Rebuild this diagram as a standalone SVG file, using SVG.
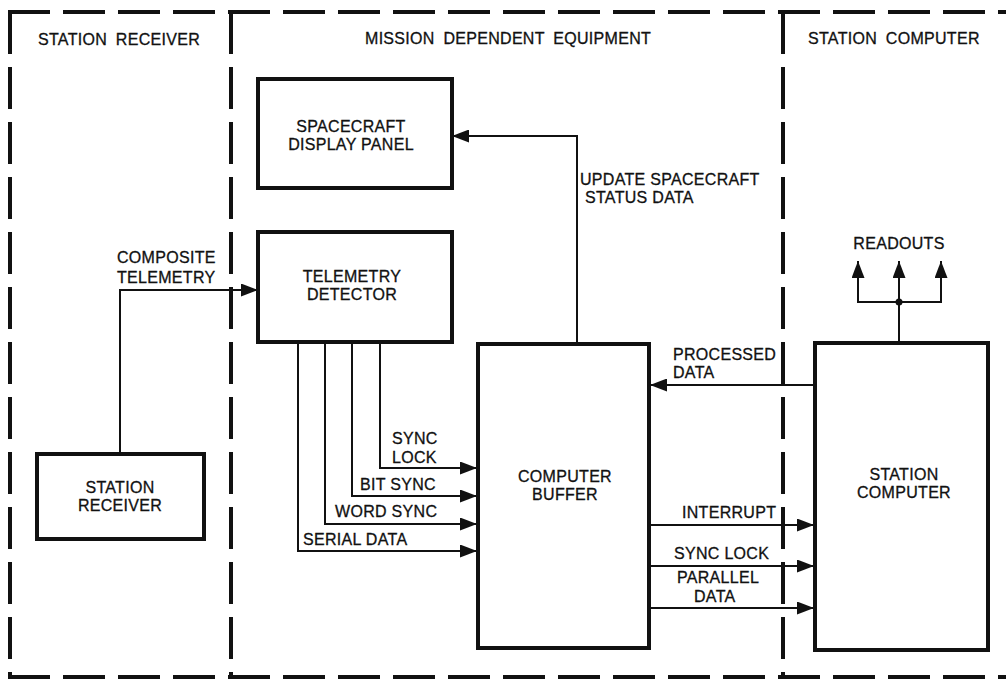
<svg xmlns="http://www.w3.org/2000/svg" width="1006" height="680" viewBox="0 0 1006 680">
  <style>
    .bg { fill: #ffffff; }
    .border { stroke: #111; stroke-width: 4; stroke-dasharray: 42 13; fill: none; stroke-linecap: butt; }
    .box { fill: #ffffff; stroke: #111; stroke-width: 4; }
    .wire { fill: none; stroke: #111; stroke-width: 2; }
    text { font-family: "Liberation Sans", Arial, sans-serif; font-size: 16px; fill: #111; stroke: #111; stroke-width: 0.3; letter-spacing: 0.3px; }
    .hdr { word-spacing: 4px; }
    .mid { text-anchor: middle; }
  </style>
  <defs>
    <marker id="arrow" viewBox="0 0 17 13" refX="17" refY="6.5" markerWidth="17" markerHeight="13" markerUnits="userSpaceOnUse" orient="auto">
      <path d="M0,0 L17,6.5 L0,13 z" fill="#111"/>
    </marker>
  </defs>
  <rect class="bg" x="0" y="0" width="1006" height="680"/>

  <g id="regions">
    <line class="border" x1="8" y1="12" x2="1006" y2="12"/>
    <line class="border" x1="10" y1="12" x2="10" y2="677"/>
    <line class="border" x1="8" y1="677" x2="1006" y2="677"/>
    <line class="border" x1="231" y1="12" x2="231" y2="677"/>
    <line class="border" x1="783" y1="12" x2="783" y2="677"/>
    <text class="hdr" x="38" y="45">STATION RECEIVER</text>
    <text class="hdr" x="365" y="44">MISSION DEPENDENT EQUIPMENT</text>
    <text class="hdr" x="808" y="44">STATION COMPUTER</text>
  </g>

  <g id="connectors">
    <!-- composite telemetry -->
    <path class="wire" d="M120,454 L120,290 L258,290" marker-end="url(#arrow)"/>
    <text x="117" y="263">COMPOSITE</text>
    <text x="117" y="283">TELEMETRY</text>
    <!-- update spacecraft status data -->
    <path class="wire" d="M577,344 L577,136 L452,136" marker-end="url(#arrow)"/>
    <text x="580" y="185">UPDATE SPACECRAFT</text>
    <text x="585" y="203">STATUS DATA</text>
    <!-- detector outputs -->
    <path class="wire" d="M380,342 L380,468 L477,468" marker-end="url(#arrow)"/>
    <path class="wire" d="M352,342 L352,496 L477,496" marker-end="url(#arrow)"/>
    <path class="wire" d="M325,342 L325,524 L477,524" marker-end="url(#arrow)"/>
    <path class="wire" d="M298,342 L298,551 L477,551" marker-end="url(#arrow)"/>
    <text x="392" y="444">SYNC</text>
    <text x="392" y="463">LOCK</text>
    <text x="360" y="490">BIT SYNC</text>
    <text x="335" y="517">WORD SYNC</text>
    <text x="303" y="545">SERIAL DATA</text>
    <!-- processed data -->
    <path class="wire" d="M815,385 L650,385" marker-end="url(#arrow)"/>
    <text x="673" y="360">PROCESSED</text>
    <text x="673" y="378">DATA</text>
    <!-- buffer to station computer -->
    <path class="wire" d="M650,525 L814,525" marker-end="url(#arrow)"/>
    <path class="wire" d="M650,566 L814,566" marker-end="url(#arrow)"/>
    <path class="wire" d="M650,608 L814,608" marker-end="url(#arrow)"/>
    <text x="682" y="518">INTERRUPT</text>
    <text x="674" y="559">SYNC LOCK</text>
    <text x="677" y="583">PARALLEL</text>
    <text x="694" y="602">DATA</text>
    <!-- readouts -->
    <path class="wire" d="M899,343 L899,261" marker-end="url(#arrow)"/>
    <path class="wire" d="M858,302 L941,302"/>
    <path class="wire" d="M858,303 L858,261" marker-end="url(#arrow)"/>
    <path class="wire" d="M941,303 L941,261" marker-end="url(#arrow)"/>
    <circle cx="899" cy="302" r="3.5" fill="#111"/>
    <text class="mid" x="899" y="249">READOUTS</text>
  </g>

  <g id="spacecraft-display-panel">
    <rect class="box" x="258" y="79" width="194" height="109"/>
    <text class="mid" x="351" y="132">SPACECRAFT</text>
    <text class="mid" x="351" y="150">DISPLAY PANEL</text>
  </g>

  <g id="telemetry-detector">
    <rect class="box" x="258" y="232" width="194" height="110"/>
    <text class="mid" x="352" y="282">TELEMETRY</text>
    <text class="mid" x="352" y="300">DETECTOR</text>
  </g>

  <g id="station-receiver">
    <rect class="box" x="37" y="454" width="167" height="85"/>
    <text class="mid" x="120" y="493">STATION</text>
    <text class="mid" x="120" y="511">RECEIVER</text>
  </g>

  <g id="computer-buffer">
    <rect class="box" x="478" y="344" width="171" height="304"/>
    <text class="mid" x="565" y="482">COMPUTER</text>
    <text class="mid" x="565" y="500">BUFFER</text>
  </g>

  <g id="station-computer">
    <rect class="box" x="815" y="343" width="173" height="307"/>
    <text class="mid" x="904" y="480">STATION</text>
    <text class="mid" x="904" y="498">COMPUTER</text>
  </g>
</svg>
